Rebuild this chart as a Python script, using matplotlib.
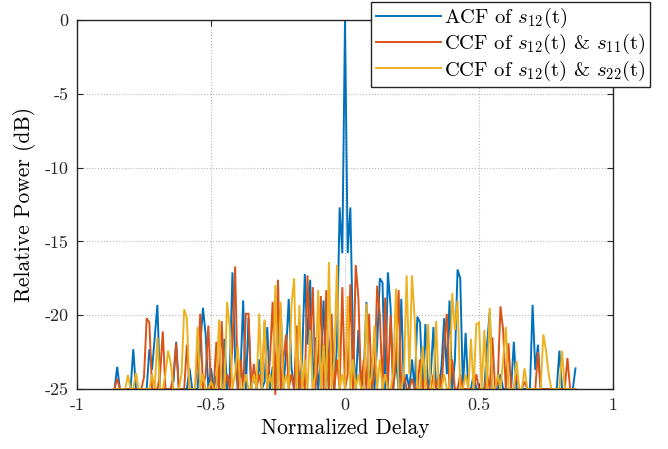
import numpy as np
import matplotlib
matplotlib.use("Agg")
import matplotlib.pyplot as plt

plt.rcParams['font.family'] = 'serif'
plt.rcParams['font.serif'] = ['cmr10']
plt.rcParams['mathtext.fontset'] = 'cm'
plt.rcParams['axes.formatter.use_mathtext'] = True

# normalized delay grid, -0.86 .. 0.86 step 0.01
delay = np.round(np.arange(-86, 87) * 0.01, 2)

# ACF of s12(t), dB
acf_s12 = [
    -25, -23.5, -25, -25, -25, -25, -25, -22.3, -25, -25,
    -25, -25, -25, -22.3, -23.7, -21.5, -19.3, -25, -25, -25,
    -25, -25, -24.5, -21.8, -25, -25, -25, -25, -23.6, -25,
    -25, -25, -22, -19.5, -21.3, -25, -23.6, -25, -24.1, -25,
    -25, -21.6, -25, -24, -17.1, -23, -25, -24, -19.0, -25,
    -20.2, -25, -24, -25, -23, -25, -24.5, -20.8, -25, -23.5,
    -25, -22, -19.5, -25, -22.5, -18.9, -23.5, -25, -22, -25,
    -23, -17.2, -22, -17.6, -25, -21.5, -25, -23, -19.0, -25,
    -22.5, -21.0, -25, -22, -12.7, -15.8, 0, -15.8, -12.7, -22,
    -25, -21, -25, -24, -19.1, -25, -23, -25, -22, -17.5,
    -17.8, -25, -17.1, -19.4, -25, -23, -25, -18.9, -25, -24,
    -25, -23, -25, -20.1, -20.5, -25, -20.6, -25, -24, -20.8,
    -25, -25, -23.5, -20.2, -24, -19.0, -25, -23.1, -16.9, -17.5,
    -25, -21.2, -25, -25, -24, -25, -25, -25, -25, -22,
    -19.8, -25, -25, -25, -24, -25, -25, -25, -25, -21.8,
    -25, -25, -25, -25, -25, -25, -19.3, -23.7, -22.0, -25,
    -25, -25, -25, -25, -25, -25, -22.4, -25, -25, -25,
    -25, -25, -23.6,
]

# CCF of s12(t) & s11(t), dB
ccf_s11 = [
    -25, -24.3, -25, -25, -25, -25, -25, -25, -25, -25,
    -25, -24.2, -20.2, -20.5, -25, -25, -25, -24, -21.1, -25,
    -25, -25, -24, -21.9, -25, -25, -25, -22.0, -25, -25,
    -25, -23, -19.9, -25, -24, -20.7, -25, -25, -21.8, -25,
    -20.4, -25, -24, -25, -22, -16.7, -25, -23, -25, -19.9,
    -19.9, -25, -23.3, -25, -24, -25, -20.4, -25, -23, -19.1,
    -25.4, -17.6, -25, -23, -21.3, -25, -24, -25, -20.7, -25,
    -24, -25, -17.3, -22, -18.1, -25, -23, -18.7, -25, -18.3,
    -25, -19.9, -25, -23, -25, -18.1, -25, -24, -17.9, -25,
    -16.6, -18.8, -25, -23, -25, -19.9, -25, -24, -18.0, -20,
    -25, -18.8, -25, -20.0, -25, -23, -18.3, -25, -24, -25,
    -25, -24.3, -25, -25, -23, -25, -24, -25, -25, -24,
    -25, -24, -25, -22, -19.9, -25, -23, -25, -25, -24,
    -25, -25, -25, -25, -25, -24, -25, -25, -25, -24,
    -25, -21.5, -25, -24.5, -19.4, -21, -25, -21.9, -25, -25,
    -24, -25, -25, -24.5, -25, -25, -25, -25, -22.5, -25,
    -25, -25, -25, -25, -25, -25, -25, -25, -25, -22.9,
    -25, -25, -25,
]

# CCF of s12(t) & s22(t), dB
ccf_s22 = [
    -25, -25, -25, -25, -25, -24.05, -25, -25, -23.9, -25,
    -25, -25, -25, -25, -24, -25, -21.5, -25, -25, -24,
    -22.4, -23.3, -25, -25, -25, -24, -19.6, -20.2, -25, -25,
    -25, -20.8, -25, -24, -25, -25, -24.5, -25, -25, -20.3,
    -25, -25, -19.1, -20.8, -25, -24, -22.1, -25, -25, -24,
    -25, -25, -24, -25, -19.9, -25, -20.3, -25, -24, -25,
    -17.95, -25, -19.1, -25, -24, -25, -19.4, -17.5, -25, -19.3,
    -25, -23, -25, -21, -25, -24, -18.3, -25, -22, -25,
    -16.4, -25, -23, -16.6, -25, -24, -25, -18.7, -25, -23,
    -25, -24, -25, -25, -19.2, -25, -24, -20.7, -25, -23,
    -25, -24, -25, -25, -24, -18.2, -25, -25, -24, -17.3,
    -24, -17.3, -20.3, -25, -25, -22.1, -25, -20.6, -25, -25,
    -20.4, -25, -25, -24, -25, -25, -18.5, -21, -19.0, -25,
    -25, -24, -25, -21.6, -25, -20.6, -20.5, -25, -21.0, -25,
    -19.5, -25, -25, -24, -25, -23, -20.8, -25, -25, -25,
    -23.1, -25, -25, -23.6, -25, -25, -25, -25, -25, -25,
    -21.3, -22.4, -24, -25, -25, -25, -25, -22.4, -25, -25,
    -25, -25, -25,
]

xticks = [-1, -0.5, 0, 0.5, 1]
xticklabels = ['-1', '-0.5', '0', '0.5', '1']
yticks = [-25, -20, -15, -10, -5, 0]
yticklabels = ['-25', '-20', '-15', '-10', '-5', '0']

labels = [r'ACF of $s_{12}$(t)',
          r'CCF of $s_{12}$(t) & $s_{11}$(t)',
          r'CCF of $s_{12}$(t) & $s_{22}$(t)']
colors = ['#0072BD', '#D95319', '#EDB120']

fig = plt.figure(figsize=(6.68, 4.49), dpi=100)
ax = fig.add_axes([77 / 668, 1 - 389 / 449, 536 / 668, 369 / 449])

for vals, lab, col in zip([acf_s12, ccf_s11, ccf_s22], labels, colors):
    ax.plot(delay, vals, color=col, lw=1.4, label=lab, clip_on=False,
            solid_joinstyle='miter')

ax.set_xlim(-1, 1)
ax.set_ylim(-25, 0)
ax.set_xticks(xticks, xticklabels)
ax.set_yticks(yticks, yticklabels)
ax.tick_params(direction='in', length=4, width=0.8, labelsize=13, pad=6,
               top=True, right=True, colors='#262626')
ax.grid(True, linestyle=':', color='#b8b8b8', lw=0.8)
ax.set_axisbelow(True)
for sp in ax.spines.values():
    sp.set_color('#262626')
    sp.set_linewidth(1.0)

ax.set_xlabel('Normalized Delay', fontsize=15.5, labelpad=4)
ax.set_ylabel('Relative Power (dB)', fontsize=15.5, labelpad=6)

leg = ax.legend(loc='upper right', bbox_to_anchor=(650 / 668, 1 - 2 / 449),
                bbox_transform=fig.transFigure, fontsize=14.8, fancybox=False,
                framealpha=1, edgecolor='#262626', handlelength=3.2,
                handletextpad=0.15, borderpad=0.2, labelspacing=0.1,
                borderaxespad=0)
leg.get_frame().set_linewidth(1.0)

fig.savefig('out.png', dpi=100)
